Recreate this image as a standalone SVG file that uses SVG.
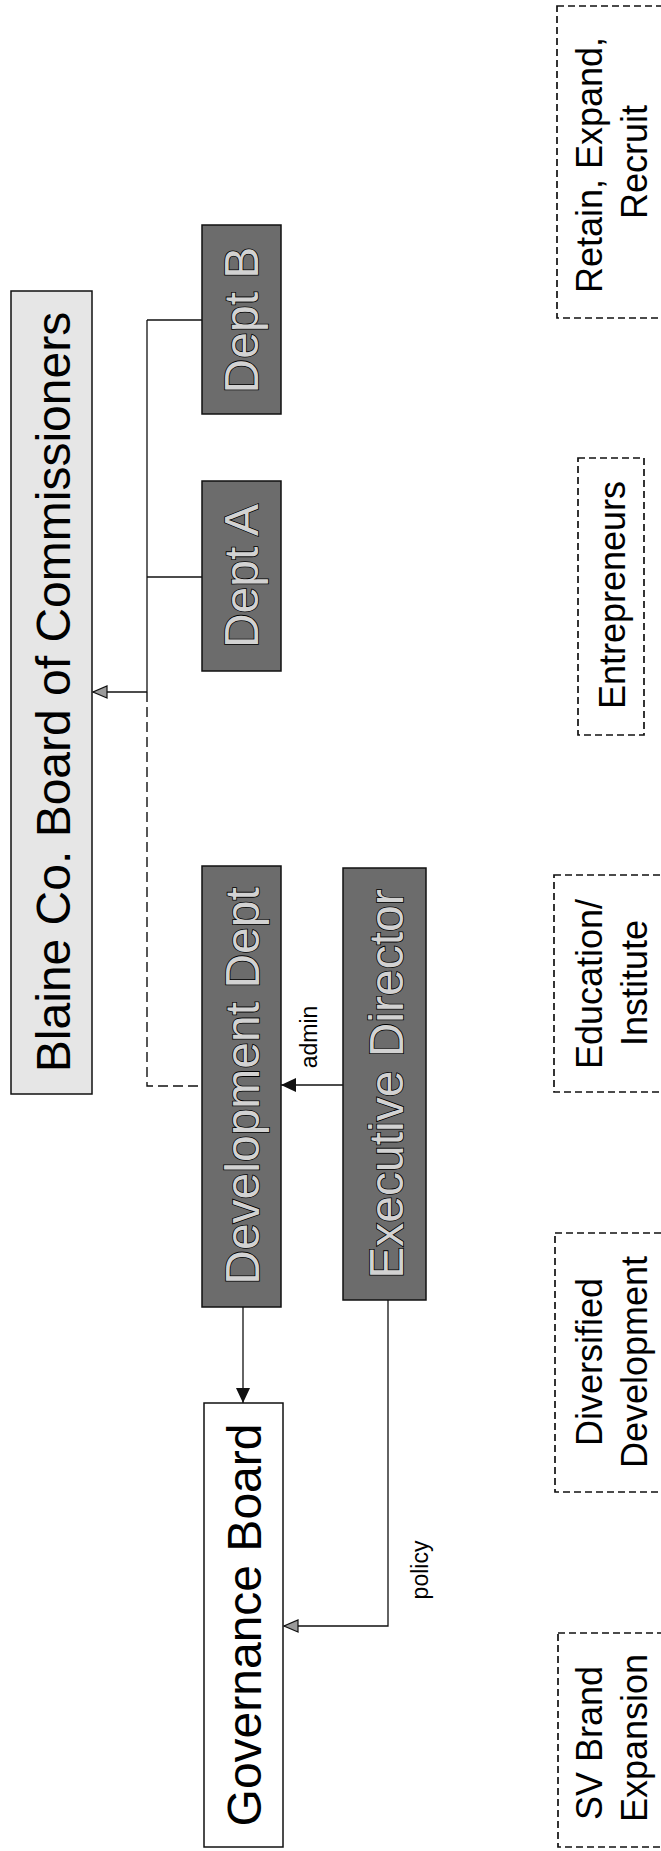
<svg xmlns="http://www.w3.org/2000/svg" width="661" height="1851" viewBox="0 0 661 1851">
<style>
.big{font-family:"Liberation Sans",Arial,sans-serif;font-size:48px;text-anchor:middle}
.lt{fill:#000}
.dk{fill:#d2d2d2;stroke:#000;stroke-width:1.6px;paint-order:stroke}
.mid{font-family:"Liberation Sans",Arial,sans-serif;font-size:36px;text-anchor:middle;fill:#000}
.sm{font-family:"Liberation Sans",Arial,sans-serif;font-size:23px;text-anchor:middle;fill:#000}
.dkbox{fill:#6c6c6c;stroke:#111;stroke-width:1.5}
.ltbox{fill:#e6e6e6;stroke:#111;stroke-width:1.5}
.wbox{fill:#fff;stroke:#111;stroke-width:1.5}
.dash{fill:none;stroke:#111;stroke-width:1.7;stroke-dasharray:7 4}
.ln{fill:none;stroke:#111;stroke-width:1.3}
.dln{fill:none;stroke:#111;stroke-width:1.4;stroke-dasharray:10 5}
</style>
<defs>
<marker id="af" markerUnits="userSpaceOnUse" markerWidth="16" markerHeight="14" refX="15" refY="7" orient="auto">
<path d="M0,0 L15,7 L0,14 z" fill="#111"/>
</marker>
<marker id="ao" markerUnits="userSpaceOnUse" markerWidth="16" markerHeight="14" refX="15" refY="7" orient="auto">
<path d="M1,1 L15,7 L1,13 z" fill="#9a9a9a" stroke="#111" stroke-width="1.2"/>
</marker>
</defs>
<rect width="661" height="1851" fill="#fff"/>
<g id="connectors">
<path class="ln" d="M147,320 V692"/>
<path class="ln" d="M147,320 H202"/>
<path class="ln" d="M147,577 H202"/>
<path class="ln" d="M147,692 H93" marker-end="url(#ao)"/>
<path class="dln" d="M147,692 V1086 H202"/>
<path class="ln" d="M343,1085 H281" marker-end="url(#af)"/>
<path class="ln" d="M243,1307 V1403" marker-end="url(#af)"/>
<path class="ln" d="M388,1300 V1626 H284" marker-end="url(#ao)"/>
<text class="sm" transform="translate(317,1037) rotate(-90)">admin</text>
<text class="sm" transform="translate(428,1570) rotate(-90)">policy</text>
</g>
<g id="blaine">
<rect class="ltbox" x="11" y="291" width="81" height="803"/>
<text class="big lt" transform="translate(70,692) rotate(-90)">Blaine Co. Board of Commissioners</text>
</g>
<g id="deptB">
<rect class="dkbox" x="202" y="225" width="79" height="189"/>
<text class="big dk" transform="translate(258,320) rotate(-90)">Dept B</text>
</g>
<g id="deptA">
<rect class="dkbox" x="202" y="481" width="79" height="190"/>
<text class="big dk" transform="translate(258,576) rotate(-90)">Dept A</text>
</g>
<g id="devDept">
<rect class="dkbox" x="202" y="866" width="79" height="441"/>
<text class="big dk" transform="translate(259,1086) rotate(-90)">Development Dept</text>
</g>
<g id="execDir">
<rect class="dkbox" x="343" y="868" width="83" height="432"/>
<text class="big dk" transform="translate(403,1084) rotate(-90)">Executive Director</text>
</g>
<g id="governance">
<rect class="wbox" x="204" y="1403" width="79" height="444"/>
<text class="big lt" transform="translate(261,1625) rotate(-90)">Governance Board</text>
</g>
<g id="retain">
<rect class="dash" x="557" y="6" width="120" height="312"/>
<text class="mid" transform="translate(602,165) rotate(-90)">Retain, Expand,</text>
<text class="mid" transform="translate(647,162) rotate(-90)">Recruit</text>
</g>
<g id="entrepreneurs">
<rect class="dash" x="578" y="458" width="66" height="277"/>
<text class="mid" transform="translate(625,595) rotate(-90)">Entrepreneurs</text>
</g>
<g id="education">
<rect class="dash" x="554" y="875" width="120" height="217"/>
<text class="mid" transform="translate(602,984) rotate(-90)">Education/</text>
<text class="mid" transform="translate(647,983) rotate(-90)">Institute</text>
</g>
<g id="diversified">
<rect class="dash" x="555" y="1233" width="120" height="259"/>
<text class="mid" transform="translate(602,1362) rotate(-90)">Diversified</text>
<text class="mid" transform="translate(647,1362) rotate(-90)">Development</text>
</g>
<g id="svbrand">
<rect class="dash" x="558" y="1633" width="120" height="214"/>
<text class="mid" transform="translate(602,1743) rotate(-90)">SV Brand</text>
<text class="mid" transform="translate(647,1738) rotate(-90)">Expansion</text>
</g>
</svg>
